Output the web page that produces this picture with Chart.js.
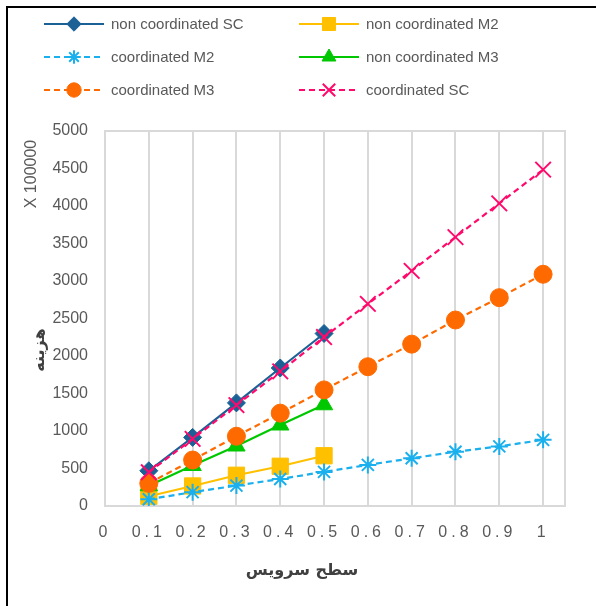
<!DOCTYPE html>
<html lang="en">

<head>
    <meta charset="UTF-8">
    <script src="https://cdn.jsdelivr.net/npm/chart.js"></script>
    <title>Cost vs service level</title>
    <style>
        html,
        body {
            margin: 0;
            padding: 0;
            background: #ffffff;
        }

        #wrap {
            width: 596px;
            height: 606px;
        }
    </style>
</head>

<body>
    <div id="wrap"><canvas id="costChart" width="596" height="606"></canvas></div>
    <script>
        // service levels (x) and cost values (x 100000)
        const levels = [0.1, 0.2, 0.3, 0.4, 0.5, 0.6, 0.7, 0.8, 0.9, 1];
        const nonCoordSC = [470, 915, 1375, 1840, 2300];
        const nonCoordM2 = [130, 267, 410, 530, 670];
        const coordM2 = [90, 185, 272, 360, 455, 548, 636, 724, 795, 882];
        const nonCoordM3 = [270, 540, 800, 1080, 1350];
        const coordM3 = [302, 613, 930, 1238, 1548, 1857, 2158, 2480, 2778, 3090];
        const coordSC = [450, 895, 1345, 1795, 2252, 2695, 3135, 3585, 4035, 4485];
        const xTicks = [0, 0.1, 0.2, 0.3, 0.4, 0.5, 0.6, 0.7, 0.8, 0.9, 1];

        const xTitle = 'سطح سرویس';
        const yTitle = 'هزینه';
        const yUnit = 'X 100000';

        const pts = arr => arr.map((v, i) => ({ x: levels[i], y: v }));
        const grey = '#595959';

        function series(label, values, color, style, radius, dashed, order) {
            const thin = (style === 'star' || style === 'crossRot');
            return {
                label: label,
                data: pts(values),
                borderColor: color,
                backgroundColor: color,
                pointBackgroundColor: color,
                pointBorderColor: color,
                pointStyle: style,
                pointRadius: radius,
                pointHoverRadius: radius,
                pointBorderWidth: thin ? 2 : 1,
                borderWidth: 2.2,
                borderDash: dashed ? [6, 4] : [],
                order: order
            };
        }

        const datasets = [
            series('non coordinated SC', nonCoordSC, '#1b6196', 'rectRot', 9, false, 6),
            series('non coordinated M2', nonCoordM2, '#ffc000', 'rect', 11.5, false, 5),
            series('coordinated M2', coordM2, '#1ab0ee', 'star', 8.5, true, 4),
            series('non coordinated M3', nonCoordM3, '#00c800', 'triangle', 10, false, 3),
            series('coordinated M3', coordM3, '#ff6a00', 'circle', 9, true, 2),
            series('coordinated SC', coordSC, '#ff0a6c', 'crossRot', 11, true, 1)
        ];

        // legend laid out as two fixed columns, like the original
        const legendSlots = [
            [44, 24], [299, 24],
            [44, 57], [299, 57],
            [44, 90], [299, 90]
        ];

        const decor = {
            id: 'decor',
            beforeDraw(chart) {
                const ctx = chart.ctx;
                ctx.save();
                ctx.strokeStyle = '#000000';
                ctx.lineWidth = 2;
                ctx.beginPath();
                ctx.moveTo(7, 700);
                ctx.lineTo(7, 7);
                ctx.lineTo(700, 7);
                ctx.stroke();
                ctx.restore();
            },
            afterDatasetsDraw(chart) {
                // wide spacing of the x tick labels
                chart.ctx.letterSpacing = '4px';
            },
            afterDraw(chart) {
                const ctx = chart.ctx;
                const a = chart.chartArea;
                ctx.save();
                ctx.letterSpacing = '0px';

                // plot area border
                ctx.strokeStyle = '#d9d9d9';
                ctx.lineWidth = 2;
                ctx.beginPath();
                ctx.moveTo(a.left, a.top);
                ctx.lineTo(a.right, a.top);
                ctx.lineTo(a.right, a.bottom);
                ctx.stroke();

                // axis titles
                ctx.fillStyle = '#404040';
                ctx.font = 'bold 16px "DejaVu Sans", sans-serif';
                ctx.textAlign = 'center';
                ctx.textBaseline = 'middle';
                ctx.fillText(xTitle, 302, 571);

                ctx.save();
                ctx.translate(40, 350);
                ctx.rotate(-Math.PI / 2);
                ctx.fillText(yTitle, 0, 0);
                ctx.restore();

                ctx.save();
                ctx.translate(32, 174);
                ctx.rotate(-Math.PI / 2);
                ctx.fillStyle = grey;
                ctx.font = '16px "Liberation Sans", sans-serif';
                ctx.fillText(yUnit, 0, 0);
                ctx.restore();

                // legend
                ctx.font = '15px "Liberation Sans", sans-serif';
                ctx.textAlign = 'left';
                chart.data.datasets.forEach((ds, i) => {
                    const [lx, ly] = legendSlots[i];
                    ctx.save();
                    ctx.strokeStyle = ds.borderColor;
                    ctx.lineWidth = 2.2;
                    ctx.setLineDash(ds.borderDash);
                    ctx.beginPath();
                    ctx.moveTo(lx, ly);
                    ctx.lineTo(lx + 60, ly);
                    ctx.stroke();
                    ctx.setLineDash([]);
                    ctx.fillStyle = ds.pointBackgroundColor;
                    ctx.strokeStyle = ds.pointBorderColor;
                    ctx.lineWidth = ds.pointBorderWidth;
                    Chart.helpers.drawPoint(ctx, {
                        pointStyle: ds.pointStyle,
                        radius: ds.pointRadius * 0.8,
                        borderWidth: ds.pointBorderWidth,
                        rotation: 0
                    }, lx + 30, ly);
                    ctx.restore();
                    ctx.fillStyle = grey;
                    ctx.fillText(ds.label, lx + 67, ly + 1);
                });
                ctx.restore();
            }
        };

        new Chart(document.getElementById('costChart'), {
            type: 'line',
            data: { datasets: datasets },
            options: {
                responsive: false,
                animation: false,
                events: [],
                layout: {
                    padding: { top: 131, right: 31, bottom: 0, left: 0 }
                },
                plugins: {
                    legend: { display: false },
                    tooltip: { enabled: false }
                },
                scales: {
                    x: {
                        type: 'linear',
                        min: 0,
                        max: 1.05,
                        afterFit: s => { s.height = 100; },
                        afterBuildTicks: s => { s.ticks = xTicks.map(v => ({ value: v })); },
                        grid: { color: '#d9d9d9', lineWidth: 2, drawTicks: false },
                        border: { color: '#d9d9d9', width: 2 },
                        ticks: {
                            z: 1,
                            padding: 17,
                            color: grey,
                            font: { size: 16, family: '"Liberation Sans", sans-serif' },
                            callback: v => String(v)
                        }
                    },
                    y: {
                        min: 0,
                        max: 5000,
                        afterFit: s => { s.width = 105; },
                        grid: { display: false, drawTicks: false },
                        border: { color: '#d9d9d9', width: 2 },
                        ticks: {
                            stepSize: 500,
                            padding: 17,
                            color: grey,
                            font: { size: 16, family: '"Liberation Sans", sans-serif' },
                            callback: v => String(v)
                        }
                    }
                }
            },
            plugins: [decor]
        });
    </script>
</body>

</html>
